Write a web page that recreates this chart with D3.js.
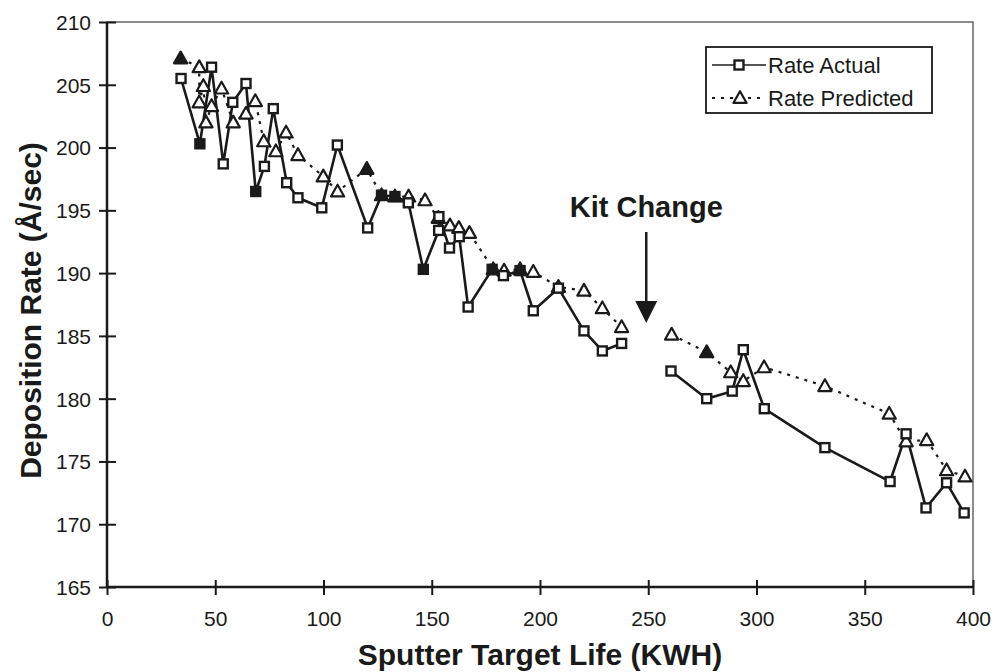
<!DOCTYPE html>
<html>
<head>
<meta charset="utf-8">
<script src="https://cdn.jsdelivr.net/npm/d3@7"></script>
<style>
  body { margin: 0; background: #fff; }
  svg { display: block; }
  text { font-family: "Liberation Sans", Arial, Helvetica, sans-serif; fill: #1a1a1a; }
</style>
</head>
<body>
<svg id="chart" width="993" height="672"></svg>
<script>
// ---------- data ----------
const xTicks = [0, 50, 100, 150, 200, 250, 300, 350, 400];
const yTicks = [165, 170, 175, 180, 185, 190, 195, 200, 205, 210];

// Rate Actual (before kit change / after kit change)
const actualX1 = [34.2, 42.9, 48.3, 53.7, 58.1, 64.2, 68.7, 72.7, 76.8, 83.0, 88.2, 99.2, 106.4, 120.4, 126.8, 133.0, 139.2, 146.1, 153.2, 153.3, 158.2, 162.7, 166.8, 177.9, 183.1, 190.8, 196.9, 208.5, 220.3, 228.8, 237.7];
const actualY1 = [205.5, 200.3, 206.4, 198.7, 203.6, 205.1, 196.5, 198.5, 203.1, 197.2, 196.0, 195.2, 200.2, 193.6, 196.2, 196.1, 195.6, 190.3, 193.4, 194.5, 192.0, 192.9, 187.3, 190.3, 189.8, 190.2, 187.0, 188.8, 185.4, 183.8, 184.4];
const actualX2 = [260.5, 277.0, 288.8, 293.9, 303.6, 331.6, 361.7, 369.1, 378.3, 387.8, 395.9];
const actualY2 = [182.2, 180.0, 180.6, 183.9, 179.2, 176.1, 173.4, 177.2, 171.3, 173.3, 170.9];
const actualFilled = [42.9, 68.7, 126.8, 133.0, 146.1, 177.9, 190.8];

// Rate Predicted
const predX1 = [34.0, 42.6, 42.6, 44.5, 45.7, 48.3, 52.9, 58.3, 64.2, 68.5, 72.4, 78.0, 82.7, 88.2, 99.9, 106.5, 120.0, 126.8, 133.0, 139.3, 146.9, 153.0, 158.4, 162.5, 167.4, 178.4, 183.4, 190.8, 196.9, 208.5, 220.3, 228.8, 237.7];
const predY1 = [207.1, 206.4, 203.6, 204.9, 202.0, 203.3, 204.7, 202.0, 202.7, 203.7, 200.5, 199.7, 201.2, 199.4, 197.7, 196.5, 198.3, 196.2, 196.1, 196.1, 195.8, 194.4, 193.8, 193.6, 193.2, 190.3, 190.2, 190.3, 190.1, 188.9, 188.6, 187.2, 185.7];
const predX2 = [260.8, 277.0, 288.1, 293.9, 303.5, 331.6, 361.3, 369.1, 378.6, 387.8, 396.3];
const predY2 = [185.1, 183.7, 182.1, 181.4, 182.5, 181.0, 178.8, 176.6, 176.7, 174.3, 173.8];
const predFilled = [34.0, 120.0, 178.4, 277.0];

const seriesNames = ["Rate Actual", "Rate Predicted"];
const annotation = { text: "Kit Change", x: 250 };
const xTitle = "Sputter Target Life (KWH)";
const yTitle = "Deposition Rate (Å/sec)";

// ---------- drawing ----------
const svg = d3.select("#chart");
const L = 107, R = 973, T = 22, B = 587;
const x = d3.scaleLinear().domain([0, 400]).range([L, R]);
const y = d3.scaleLinear().domain([165, 210]).range([B, T]);
const ink = "#1a1a1a";

// frame
svg.append("rect").attr("x", L).attr("y", T).attr("width", R - L).attr("height", B - T)
  .attr("fill", "none").attr("stroke", "#666").attr("stroke-width", 1.5);

// axes
const xAxis = d3.axisBottom(x).tickValues(xTicks).tickSize(0).tickPadding(0);
const gx = svg.append("g").attr("transform", `translate(0,${B})`).call(xAxis);
gx.select(".domain").attr("stroke", ink).attr("stroke-width", 2.5);
gx.selectAll(".tick line").remove();
gx.selectAll(".tick").append("line").attr("y1", -7).attr("y2", 8).attr("stroke", ink).attr("stroke-width", 2);
gx.selectAll(".tick text").attr("y", 39).attr("dy", 0).style("font-size", "21px").attr("fill", ink);

const yAxis = d3.axisLeft(y).tickValues(yTicks).tickSize(0).tickPadding(0);
const gy = svg.append("g").attr("transform", `translate(${L},0)`).call(yAxis);
gy.select(".domain").attr("stroke", ink).attr("stroke-width", 2.5);
gy.selectAll(".tick line").remove();
gy.selectAll(".tick").append("line").attr("x1", -8).attr("x2", 9).attr("stroke", ink).attr("stroke-width", 2);
gy.selectAll(".tick text").attr("x", -16).attr("dy", "0.35em").style("font-size", "21px").attr("fill", ink);
svg.selectAll(".domain").attr("d", function() { return d3.select(this).attr("d").replace(/^M[^H V]*[HV]/, m => m); });
gx.select(".domain").attr("d", `M0,0H${R}`).attr("d", `M${L},0H${R}`);
gy.select(".domain").attr("d", `M0,${T}V${B}`);

// titles
svg.append("text").attr("x", 540).attr("y", 665).attr("text-anchor", "middle")
  .style("font-size", "30px").style("font-weight", "bold").text(xTitle);
svg.append("text").attr("transform", `translate(41,${(T + B) / 2 + 6}) rotate(-90)`)
  .attr("text-anchor", "middle").style("font-size", "30px").style("font-weight", "bold").text(yTitle);

// lines
const line = d3.line().x(d => x(d[0])).y(d => y(d[1]));
const zip = (a, b) => a.map((v, i) => [v, b[i]]);
const pred1 = zip(predX1, predY1), pred2 = zip(predX2, predY2);
const act1 = zip(actualX1, actualY1), act2 = zip(actualX2, actualY2);

[pred1, pred2].forEach(seg => svg.append("path").attr("d", line(seg)).attr("fill", "none")
  .attr("stroke", ink).attr("stroke-width", 2.2).attr("stroke-dasharray", "3,6"));
[act1, act2].forEach(seg => svg.append("path").attr("d", line(seg)).attr("fill", "none")
  .attr("stroke", ink).attr("stroke-width", 2.6).attr("stroke-linejoin", "round"));

// markers
const tri = (cx, cy, s) => `M${cx},${cy - s * 0.62}L${cx + s * 0.6},${cy + s * 0.45}L${cx - s * 0.6},${cy + s * 0.45}Z`;
function drawTri(g, px, py, filled) {
  g.append("path").attr("d", tri(px, py, 11)).attr("fill", filled ? ink : "#fff")
    .attr("stroke", ink).attr("stroke-width", 2.2).attr("stroke-linejoin", "round");
}
function drawSq(g, px, py, filled) {
  g.append("rect").attr("x", px - 4.5).attr("y", py - 4.5).attr("width", 9).attr("height", 9)
    .attr("fill", filled ? ink : "#fff").attr("stroke", ink).attr("stroke-width", 2.4);
}
const gm = svg.append("g");
pred1.concat(pred2).forEach(d => drawTri(gm, x(d[0]), y(d[1]), predFilled.includes(d[0])));
act1.concat(act2).forEach(d => drawSq(gm, x(d[0]), y(d[1]), actualFilled.includes(d[0])));

// Kit change annotation
const ax = x(annotation.x) - 2;
svg.append("text").attr("x", ax).attr("y", 217).attr("text-anchor", "middle")
  .style("font-size", "29px").style("font-weight", "bold").text(annotation.text);
svg.append("line").attr("x1", ax).attr("x2", ax).attr("y1", 232).attr("y2", 304)
  .attr("stroke", ink).attr("stroke-width", 2.5);
svg.append("path").attr("d", `M${ax - 11},301L${ax + 11},301L${ax},323Z`).attr("fill", ink);

// legend
const lg = svg.append("g");
lg.append("rect").attr("x", 706).attr("y", 47).attr("width", 226).attr("height", 66)
  .attr("fill", "#fff").attr("stroke", ink).attr("stroke-width", 1.8);
lg.append("line").attr("x1", 712).attr("x2", 766).attr("y1", 65).attr("y2", 65).attr("stroke", ink).attr("stroke-width", 1.6);
drawSq(lg, 739, 65, false);
lg.append("line").attr("x1", 712).attr("x2", 766).attr("y1", 98).attr("y2", 98).attr("stroke", ink)
  .attr("stroke-width", 2).attr("stroke-dasharray", "3,6");
drawTri(lg, 740, 98, false);
lg.append("text").attr("x", 768).attr("y", 73).style("font-size", "22px").text(seriesNames[0]);
lg.append("text").attr("x", 768).attr("y", 106).style("font-size", "22px").text(seriesNames[1]);
</script>
</body>
</html>
